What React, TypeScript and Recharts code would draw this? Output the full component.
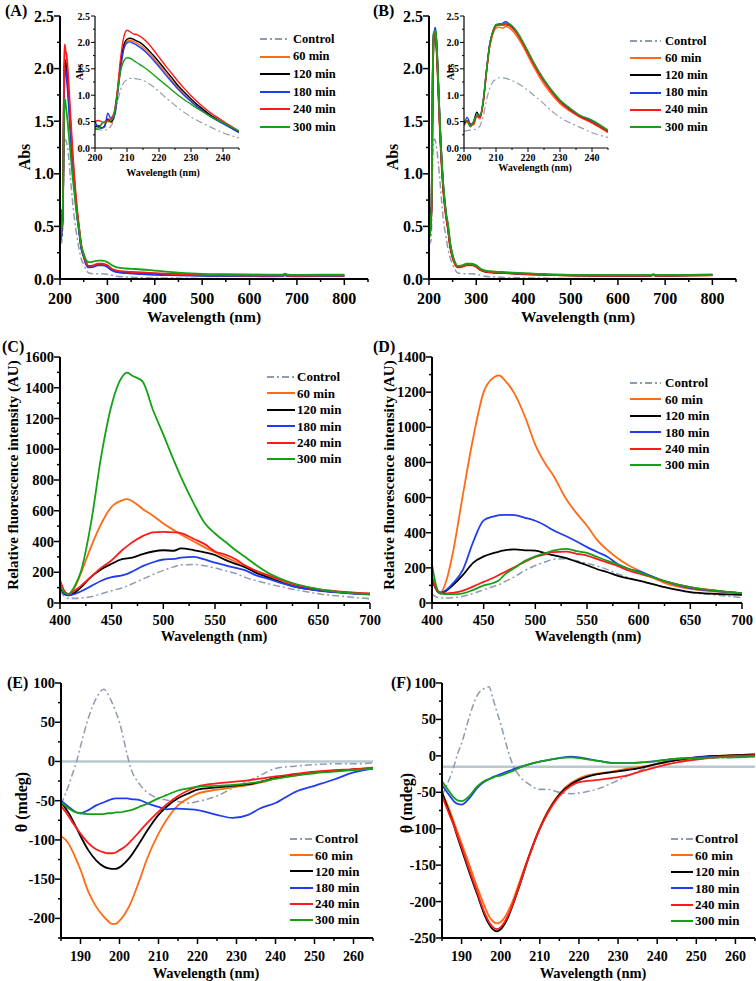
import React from 'react';
import { LineChart, Line, XAxis, YAxis, Legend, ReferenceLine } from 'recharts';

const FONT = '"Liberation Serif", "Times New Roman", Times, serif';

// ---------- series ----------
const seriesKeys = ['control', 'm60', 'm120', 'm180', 'm240', 'm300'];
const seriesNames = ['Control', '60 min', '120 min', '180 min', '240 min', '300 min'];
const seriesColors = ['#8f9cb0', '#ff6a14', '#000000', '#1f3cf0', '#ff1a1a', '#16a016'];
const seriesDash = ['7 3 2 3', '', '', '', '', ''];

// ---------- UV absorbance (A, B) ----------
const absWavelength = [200, 201, 202, 203, 204, 205, 206, 207, 208, 209, 210, 211, 212, 213, 214, 216, 218, 220, 222, 224, 226, 228, 230, 233, 236, 240, 245,
  250, 255, 260, 270, 280, 290, 300, 310, 320, 340, 360, 400, 450, 500, 550, 600, 650, 670, 675, 680, 700, 750, 800];

const absA_control = [0.36, 0.35, 0.34, 0.34, 0.36, 0.42, 0.55, 0.85, 1.10, 1.24, 1.30, 1.32, 1.32, 1.31, 1.30, 1.25, 1.17, 1.07, 0.96, 0.86, 0.76, 0.67, 0.59, 0.49, 0.40, 0.29, 0.19,
  0.14, 0.09, 0.06, 0.05, 0.05, 0.05, 0.045, 0.035, 0.025, 0.02, 0.015, 0.01, 0.008, 0.005, 0.003, 0.002, 0.001, 0.001, 0.002, 0.001, 0.001, 0.001, 0.001];
const absA_60 = [0.35, 0.40, 0.45, 0.50, 0.52, 0.48, 0.60, 1.00, 1.55, 1.90, 2.02, 2.04, 2.02, 1.99, 1.95, 1.85, 1.72, 1.58, 1.43, 1.28, 1.14, 1.01, 0.89, 0.74, 0.61, 0.47, 0.30,
  0.22, 0.15, 0.12, 0.125, 0.14, 0.14, 0.125, 0.09, 0.075, 0.065, 0.06, 0.05, 0.045, 0.035, 0.033, 0.032, 0.031, 0.032, 0.04, 0.031, 0.03, 0.031, 0.032];
const absA_120 = [0.40, 0.42, 0.38, 0.42, 0.55, 0.50, 0.62, 1.05, 1.60, 1.95, 2.06, 2.08, 2.06, 2.03, 2.00, 1.90, 1.77, 1.63, 1.48, 1.33, 1.18, 1.05, 0.93, 0.77, 0.63, 0.48, 0.30,
  0.22, 0.15, 0.115, 0.12, 0.135, 0.135, 0.12, 0.085, 0.07, 0.06, 0.055, 0.048, 0.042, 0.035, 0.033, 0.032, 0.031, 0.032, 0.04, 0.031, 0.03, 0.031, 0.032];
const absA_180 = [0.50, 0.40, 0.38, 0.40, 0.66, 0.55, 0.60, 1.00, 1.50, 1.87, 1.99, 2.01, 1.98, 1.95, 1.91, 1.81, 1.68, 1.54, 1.39, 1.25, 1.11, 0.99, 0.88, 0.73, 0.60, 0.46, 0.29,
  0.21, 0.14, 0.11, 0.115, 0.13, 0.13, 0.115, 0.08, 0.065, 0.055, 0.05, 0.04, 0.035, 0.03, 0.028, 0.027, 0.026, 0.027, 0.035, 0.027, 0.026, 0.027, 0.028];
const absA_240 = [0.50, 0.52, 0.50, 0.48, 0.52, 0.56, 0.68, 1.10, 1.70, 2.10, 2.23, 2.20, 2.16, 2.15, 2.12, 2.02, 1.88, 1.72, 1.56, 1.41, 1.26, 1.12, 0.99, 0.82, 0.67, 0.51, 0.32,
  0.23, 0.16, 0.125, 0.13, 0.145, 0.145, 0.13, 0.095, 0.08, 0.07, 0.065, 0.055, 0.045, 0.036, 0.034, 0.033, 0.032, 0.033, 0.042, 0.032, 0.031, 0.032, 0.033];
const absA_300 = [0.38, 0.35, 0.45, 0.50, 0.50, 0.52, 0.65, 1.05, 1.45, 1.65, 1.71, 1.70, 1.66, 1.62, 1.58, 1.50, 1.40, 1.30, 1.20, 1.10, 1.00, 0.91, 0.83, 0.71, 0.60, 0.48, 0.32,
  0.24, 0.18, 0.16, 0.165, 0.175, 0.175, 0.16, 0.13, 0.11, 0.10, 0.095, 0.08, 0.06, 0.048, 0.045, 0.043, 0.041, 0.042, 0.05, 0.042, 0.04, 0.041, 0.042];

const absB_control = [0.32, 0.33, 0.34, 0.35, 0.36, 0.42, 0.60, 0.90, 1.12, 1.25, 1.30, 1.33, 1.33, 1.32, 1.30, 1.25, 1.18, 1.09, 0.99, 0.89, 0.78, 0.67, 0.58, 0.48, 0.40, 0.29, 0.20,
  0.14, 0.09, 0.06, 0.05, 0.05, 0.05, 0.045, 0.035, 0.025, 0.02, 0.015, 0.01, 0.008, 0.005, 0.003, 0.002, 0.001, 0.001, 0.002, 0.001, 0.001, 0.001, 0.001];
const absB_60 = [0.42, 0.50, 0.46, 0.44, 0.60, 0.55, 0.85, 1.40, 1.90, 2.15, 2.27, 2.29, 2.27, 2.30, 2.28, 2.16, 1.97, 1.74, 1.51, 1.30, 1.12, 0.97, 0.84, 0.70, 0.59, 0.47, 0.29,
  0.20, 0.14, 0.11, 0.115, 0.13, 0.13, 0.115, 0.08, 0.065, 0.058, 0.055, 0.045, 0.038, 0.032, 0.03, 0.03, 0.03, 0.031, 0.038, 0.03, 0.03, 0.032, 0.035];
const absB_120 = [0.45, 0.52, 0.42, 0.50, 0.68, 0.58, 0.88, 1.45, 1.95, 2.20, 2.32, 2.34, 2.34, 2.34, 2.33, 2.22, 2.03, 1.80, 1.57, 1.36, 1.18, 1.02, 0.88, 0.73, 0.61, 0.49, 0.31,
  0.21, 0.15, 0.115, 0.12, 0.135, 0.135, 0.12, 0.085, 0.07, 0.062, 0.058, 0.048, 0.04, 0.034, 0.032, 0.032, 0.032, 0.033, 0.04, 0.032, 0.032, 0.034, 0.037];
const absB_180 = [0.45, 0.58, 0.45, 0.48, 0.62, 0.62, 0.88, 1.45, 1.95, 2.20, 2.33, 2.35, 2.36, 2.39, 2.36, 2.24, 2.05, 1.82, 1.59, 1.38, 1.20, 1.04, 0.90, 0.75, 0.62, 0.51, 0.33,
  0.22, 0.15, 0.12, 0.125, 0.14, 0.14, 0.125, 0.09, 0.075, 0.065, 0.06, 0.05, 0.042, 0.036, 0.034, 0.034, 0.034, 0.035, 0.042, 0.034, 0.034, 0.036, 0.039];
const absB_240 = [0.50, 0.52, 0.43, 0.45, 0.60, 0.58, 0.86, 1.42, 1.92, 2.18, 2.31, 2.33, 2.33, 2.34, 2.32, 2.21, 2.02, 1.79, 1.56, 1.35, 1.17, 1.01, 0.87, 0.72, 0.60, 0.49, 0.31,
  0.21, 0.14, 0.115, 0.12, 0.135, 0.135, 0.12, 0.085, 0.07, 0.062, 0.058, 0.048, 0.04, 0.034, 0.032, 0.032, 0.032, 0.033, 0.04, 0.032, 0.032, 0.034, 0.037];
const absB_300 = [0.52, 0.50, 0.40, 0.50, 0.62, 0.62, 0.90, 1.45, 1.95, 2.20, 2.34, 2.35, 2.35, 2.36, 2.35, 2.25, 2.06, 1.83, 1.60, 1.39, 1.21, 1.05, 0.91, 0.76, 0.63, 0.53, 0.34,
  0.23, 0.16, 0.125, 0.13, 0.145, 0.145, 0.13, 0.095, 0.08, 0.07, 0.065, 0.055, 0.045, 0.04, 0.038, 0.037, 0.037, 0.038, 0.045, 0.038, 0.038, 0.04, 0.043];

// ---------- Fluorescence (C, D) ----------
const flWavelength = [400, 404, 408, 415, 420, 430, 440, 450, 460, 465, 470, 480, 490, 500, 510, 517, 530, 540, 550, 560, 570, 580, 590, 600, 625, 650, 675, 700];

const flC_control = [80, 45, 30, 30, 33, 40, 60, 80, 98, 110, 125, 155, 185, 212, 235, 248, 250, 242, 228, 210, 192, 165, 145, 128, 90, 60, 42, 28];
const flC_60 = [130, 80, 55, 110, 190, 365, 517, 626, 668, 675, 662, 612, 568, 517, 474, 445, 398, 362, 330, 298, 268, 240, 205, 180, 115, 83, 68, 60];
const flC_120 = [110, 60, 50, 70, 100, 170, 220, 255, 285, 290, 295, 318, 335, 343, 340, 355, 343, 330, 312, 280, 255, 230, 195, 170, 110, 83, 68, 58];
const flC_180 = [120, 65, 50, 60, 75, 110, 145, 168, 180, 190, 205, 240, 265, 283, 287, 295, 300, 283, 262, 245, 228, 210, 180, 160, 110, 80, 65, 55];
const flC_240 = [150, 80, 58, 85, 110, 170, 230, 278, 343, 370, 395, 435, 460, 463, 460, 455, 415, 383, 335, 315, 285, 240, 210, 185, 125, 90, 72, 62];
const flC_300 = [120, 70, 60, 120, 200, 520, 960, 1290, 1470, 1498, 1478, 1440, 1255, 1095, 930, 820, 640, 520, 452, 398, 343, 296, 246, 202, 130, 90, 68, 58];

const flD_control = [50, 35, 30, 28, 30, 38, 55, 75, 95, 105, 120, 150, 185, 213, 235, 248, 252, 240, 225, 210, 190, 165, 145, 128, 90, 60, 45, 30];
const flD_60 = [140, 80, 60, 150, 280, 620, 945, 1200, 1285, 1295, 1270, 1190, 1060, 900, 790, 730, 590, 510, 440, 358, 300, 253, 215, 186, 115, 80, 65, 57];
const flD_120 = [140, 80, 55, 75, 100, 160, 230, 265, 285, 293, 300, 305, 300, 298, 283, 272, 255, 235, 215, 192, 175, 155, 140, 128, 90, 62, 52, 47];
const flD_180 = [130, 80, 60, 80, 110, 190, 350, 470, 493, 500, 502, 500, 485, 468, 440, 415, 380, 350, 318, 290, 262, 220, 195, 180, 125, 85, 68, 55];
const flD_240 = [150, 80, 55, 55, 58, 70, 95, 120, 145, 160, 175, 205, 235, 262, 278, 290, 292, 280, 270, 250, 230, 210, 185, 168, 125, 90, 70, 55];
const flD_300 = [220, 100, 55, 50, 50, 55, 75, 100, 115, 130, 160, 200, 240, 265, 285, 298, 308, 295, 285, 262, 240, 220, 195, 175, 125, 90, 70, 55];

// ---------- Circular dichroism (E, F) ----------
const cdWavelength = [185, 187, 188, 189, 190, 192, 194, 196, 197, 198, 199, 200, 201, 202, 203, 205, 207, 210, 212, 215, 218, 220, 225, 229, 233, 236, 240, 245, 250, 255, 260, 265];

const cdE_control = [-55, -30, -15, 0, 19, 55, 80, 92, 86, 76, 64, 50, 30, 8, -10, -28, -39, -47, -49, -51, -53, -51, -44, -34, -25, -18, -9, -6, -4, -3, -3, -2];
const cdE_60 = [-95, -105, -115, -126, -138, -166, -185, -198, -203, -207, -207, -203, -197, -189, -179, -153, -125, -92, -75, -56, -46, -41, -36, -33, -30, -27, -22, -18, -14, -12, -10, -9];
const cdE_120 = [-52, -66, -75, -85, -95, -113, -126, -134, -136, -137, -137, -135, -131, -126, -120, -105, -89, -68, -58, -47, -40, -36, -33, -31, -29, -26, -21, -17, -14, -12, -10, -9];
const cdE_180 = [-50, -58, -62, -65, -66, -62, -56, -52, -50, -48, -47, -47, -47, -47, -48, -49, -53, -58, -61, -60, -61, -62, -68, -72, -68, -60, -53, -39, -31, -23, -14, -9];
const cdE_240 = [-57, -70, -78, -85, -92, -104, -112, -116, -117, -117, -116, -113, -110, -106, -101, -90, -79, -64, -55, -44, -36, -32, -28, -26, -24, -22, -19, -16, -13, -11, -10, -8];
const cdE_300 = [-52, -60, -63, -65, -66, -67, -67, -67, -66, -66, -65, -65, -64, -63, -62, -58, -54, -47, -43, -37, -34, -32, -31, -30, -28, -26, -22, -18, -15, -13, -11, -9];

const cdF_control = [-55, -30, -15, 3, 17, 54, 83, 93, 95, 79, 61, 44, 24, 5, -11, -29, -38, -46, -46, -50, -52, -51, -45, -36, -26, -19, -10, -6, -4, -3, -2, -1];
const cdF_60 = [-50, -75, -90, -105, -120, -150, -180, -208, -220, -227, -230, -228, -222, -212, -200, -170, -140, -98, -76, -52, -37, -31, -24, -21, -17, -15, -11, -6, -2, 0, 1, 2];
const cdF_120 = [-50, -80, -95, -112, -128, -160, -190, -220, -231, -238, -241, -238, -231, -220, -206, -175, -142, -100, -78, -53, -39, -33, -25, -22, -19, -16, -11, -6, -2, 0, 1, 2];
const cdF_180 = [-40, -55, -62, -66, -67, -58, -44, -35, -32, -29, -27, -25, -23, -21, -19, -15, -12, -8, -6, -3, -1, -2, -7, -10, -10, -9, -7, -4, -2, -1, 0, 0];
const cdF_240 = [-55, -82, -95, -110, -125, -157, -187, -217, -228, -235, -238, -235, -228, -218, -205, -174, -142, -100, -79, -55, -41, -36, -33, -30, -26, -21, -15, -9, -5, -2, 0, 1];
const cdF_300 = [-35, -50, -57, -61, -62, -55, -42, -34, -32, -30, -28, -27, -25, -23, -21, -16, -12, -8, -6, -3, -2, -3, -7, -10, -10, -9, -7, -4, -3, -2, -2, -1];

// ---------- ticks ----------
const absMainXMajor = [200, 300, 400, 500, 600, 700, 800];
const absMainXMinor = [250, 350, 450, 550, 650, 750, 850];
const absYMajor = [0, 0.5, 1.0, 1.5, 2.0, 2.5];
const absYMinor = [0.25, 0.75, 1.25, 1.75, 2.25];
const insetXMajor = [200, 210, 220, 230, 240];
const insetXMinor = [205, 215, 225, 235, 245];
const flXMajor = [400, 450, 500, 550, 600, 650, 700];
const flXMinor = [425, 475, 525, 575, 625, 675];
const flCYMajor = [0, 200, 400, 600, 800, 1000, 1200, 1400, 1600];
const flCYMinor = [100, 300, 500, 700, 900, 1100, 1300, 1500];
const flDYMajor = [0, 200, 400, 600, 800, 1000, 1200, 1400];
const flDYMinor = [100, 300, 500, 700, 900, 1100, 1300];
const cdXMajor = [190, 200, 210, 220, 230, 240, 250, 260];
const cdXMinor = [185, 195, 205, 215, 225, 235, 245, 255, 265];
const cdEYMajor = [-200, -150, -100, -50, 0, 50, 100];
const cdEYMinor = [-225, -175, -125, -75, -25, 25, 75];
const cdFYMajor = [-250, -200, -150, -100, -50, 0, 50, 100];
const cdFYMinor = [-225, -175, -125, -75, -25, 25, 75];

// ---------- helpers ----------
function buildRows(xs: number[], cols: number[][]) {
  return xs.map((w, i) => {
    const r: any = { w };
    seriesKeys.forEach((k, j) => { r[k] = cols[j][i]; });
    return r;
  });
}

const rowsA = buildRows(absWavelength, [absA_control, absA_60, absA_120, absA_180, absA_240, absA_300]);
const rowsB = buildRows(absWavelength, [absB_control, absB_60, absB_120, absB_180, absB_240, absB_300]);
const rowsAInset = rowsA.filter((r) => r.w <= 245);
const rowsBInset = rowsB.filter((r) => r.w <= 245);
const rowsC = buildRows(flWavelength, [flC_control, flC_60, flC_120, flC_180, flC_240, flC_300]);
const rowsD = buildRows(flWavelength, [flD_control, flD_60, flD_120, flD_180, flD_240, flD_300]);
const rowsE = buildRows(cdWavelength, [cdE_control, cdE_60, cdE_120, cdE_180, cdE_240, cdE_300]);
const rowsF = buildRows(cdWavelength, [cdF_control, cdF_60, cdF_120, cdF_180, cdF_240, cdF_300]);

type AxisCfg = {
  domain: [number, number];
  majors: number[];
  minors: number[];
  fmt: (v: number) => string;
  fs: number;
  majorLen: number;
  minorLen: number;
  gap: number;
};

const f1 = (v: number) => v.toFixed(1);
const f0 = (v: number) => String(v);

function renderXTick(p: any, a: AxisCfg, sw: number) {
  const { x, y, payload } = p;
  const v = payload.value;
  const major = a.majors.includes(v);
  const ay = y - 8;
  return (
    <g>
      <line x1={x} y1={ay} x2={x} y2={ay + (major ? a.majorLen : a.minorLen)} stroke="#000" strokeWidth={sw} />
      {major && (
        <text x={x} y={ay + a.gap} textAnchor="middle" dominantBaseline="central" fontFamily={FONT} fontWeight="bold" fontSize={a.fs} fill="#000">
          {a.fmt(v)}
        </text>
      )}
    </g>
  );
}

function renderYTick(p: any, a: AxisCfg, sw: number) {
  const { x, y, payload } = p;
  const v = payload.value;
  const major = a.majors.includes(v);
  const ax = x + 8;
  return (
    <g>
      <line x1={ax} y1={y} x2={ax - (major ? a.majorLen : a.minorLen)} y2={y} stroke="#000" strokeWidth={sw} />
      {major && (
        <text x={ax - a.gap} y={y} textAnchor="end" dominantBaseline="central" fontFamily={FONT} fontWeight="bold" fontSize={a.fs} fill="#000">
          {a.fmt(v)}
        </text>
      )}
    </g>
  );
}

type LegendCfg = { x: number; y: number; step: number; lineLen: number; gap: number; fs: number };

function makeLegend(cfg: LegendCfg) {
  return () => (
    <div style={{ fontFamily: FONT, fontWeight: 'bold', fontSize: cfg.fs, color: '#000' }}>
      {seriesKeys.map((k, i) => (
        <div key={k} style={{ display: 'flex', alignItems: 'center', height: cfg.step }}>
          <svg width={cfg.lineLen} height={6} style={{ flex: 'none', display: 'block' }}>
            <line x1={0} y1={3} x2={cfg.lineLen} y2={3} stroke={seriesColors[i]} strokeWidth={2}
              strokeDasharray={seriesDash[i] || undefined} />
          </svg>
          <span style={{ marginLeft: cfg.gap, whiteSpace: 'nowrap', lineHeight: 1 }}>{seriesNames[i]}</span>
        </div>
      ))}
    </div>
  );
}

type Box = { L: number; T: number; W: number; H: number };
type Plot = { x0: number; x1: number; y0: number; y1: number };

function Panel(props: {
  box: Box; plot: Plot; data: any[]; xa: AxisCfg; ya: AxisCfg; legend?: LegendCfg; refY?: number;
  lw: number; aw: number; tw: number;
}) {
  const { box, plot, data, xa, ya, legend, refY, lw, aw, tw } = props;
  const margin = {
    left: plot.x0 - box.L - 30,
    right: box.L + box.W - plot.x1,
    top: plot.y0 - box.T,
    bottom: box.T + box.H - plot.y1 - 20,
  };
  const xt = [...xa.majors, ...xa.minors].sort((a, b) => a - b);
  const yt = [...ya.majors, ...ya.minors].sort((a, b) => a - b);
  return (
    <div style={{ position: 'absolute', left: box.L, top: box.T, width: box.W, height: box.H }}>
      <LineChart width={box.W} height={box.H} data={data} margin={margin}>
        <XAxis dataKey="w" type="number" domain={xa.domain} ticks={xt} interval={0} allowDataOverflow
          height={20} tickSize={6} tickMargin={2} tickLine={false}
          axisLine={{ stroke: '#000', strokeWidth: aw }} tick={(p: any) => renderXTick(p, xa, tw)} />
        <YAxis type="number" domain={ya.domain} ticks={yt} interval={0} allowDataOverflow
          width={30} tickSize={6} tickMargin={2} tickLine={false}
          axisLine={{ stroke: '#000', strokeWidth: aw }} tick={(p: any) => renderYTick(p, ya, tw)} />
        {refY !== undefined && <ReferenceLine y={refY} stroke="#b8c8ce" strokeWidth={2.5} />}
        {seriesKeys.map((k, i) => (
          <Line key={k} dataKey={k} name={seriesNames[i]} type="monotone" dot={false} isAnimationActive={false}
            stroke={seriesColors[i]} strokeWidth={i === 0 ? lw * 0.85 : lw}
            strokeDasharray={seriesDash[i] || undefined} />
        ))}
        {legend && (
          <Legend layout="vertical" align="center" verticalAlign="middle"
            wrapperStyle={{ left: legend.x - box.L, top: legend.y - legend.step / 2 - box.T, width: 'auto' }}
            content={makeLegend(legend)} />
        )}
      </LineChart>
    </div>
  );
}

function Title(props: { x: number; y: number; text: string; fs: number; rot?: boolean }) {
  const { x, y, text, fs, rot } = props;
  return (
    <div style={{
      position: 'absolute', left: x, top: y, transform: `translate(-50%, -50%)${rot ? ' rotate(-90deg)' : ''}`,
      fontFamily: FONT, fontWeight: 'bold', fontSize: fs, whiteSpace: 'nowrap', lineHeight: 1, color: '#000',
    }}>{text}</div>
  );
}

function Letter(props: { x: number; y: number; text: string }) {
  return (
    <div style={{
      position: 'absolute', left: props.x, top: props.y, transform: 'translateY(-50%)',
      fontFamily: FONT, fontWeight: 'bold', fontSize: 16, lineHeight: 1, whiteSpace: 'nowrap',
    }}>{props.text}</div>
  );
}

// axis configs
const axAbsX: AxisCfg = { domain: [200, 850], majors: absMainXMajor, minors: absMainXMinor, fmt: f0, fs: 16, majorLen: 6, minorLen: 3, gap: 19.5 };
const axAbsY: AxisCfg = { domain: [0, 2.5], majors: absYMajor, minors: absYMinor, fmt: f1, fs: 16, majorLen: 6, minorLen: 3, gap: 6 };
const axInX: AxisCfg = { domain: [200, 245], majors: insetXMajor, minors: insetXMinor, fmt: f0, fs: 10, majorLen: 4, minorLen: 2, gap: 9 };
const axInY: AxisCfg = { domain: [0, 2.5], majors: absYMajor, minors: absYMinor, fmt: f1, fs: 10, majorLen: 4, minorLen: 2, gap: 5 };
const axFlX: AxisCfg = { domain: [400, 700], majors: flXMajor, minors: flXMinor, fmt: f0, fs: 14.5, majorLen: 6, minorLen: 3, gap: 17 };
const axFlCY: AxisCfg = { domain: [0, 1600], majors: flCYMajor, minors: flCYMinor, fmt: f0, fs: 14.5, majorLen: 6, minorLen: 3, gap: 6 };
const axFlDY: AxisCfg = { domain: [0, 1400], majors: flDYMajor, minors: flDYMinor, fmt: f0, fs: 14.5, majorLen: 6, minorLen: 3, gap: 6 };
const axCdX: AxisCfg = { domain: [185, 265], majors: cdXMajor, minors: cdXMinor, fmt: f0, fs: 14, majorLen: 6, minorLen: 3, gap: 18 };
const axCdEY: AxisCfg = { domain: [-225, 100], majors: cdEYMajor, minors: cdEYMinor, fmt: f0, fs: 14.5, majorLen: 6, minorLen: 3, gap: 6 };
const axCdFY: AxisCfg = { domain: [-250, 100], majors: cdFYMajor, minors: cdFYMinor, fmt: f0, fs: 14.5, majorLen: 6, minorLen: 3, gap: 6 };

export default function App() {
  return (
    <div style={{ position: 'absolute', left: 0, top: 0, width: 756, height: 981, background: '#fff', overflow: 'hidden' }}>
      {/* A */}
      <Panel box={{ L: 0, T: 0, W: 378, H: 330 }} plot={{ x0: 60, x1: 368, y0: 16, y1: 279 }} data={rowsA}
        xa={axAbsX} ya={axAbsY} lw={1.8} aw={2} tw={1.5}
        legend={{ x: 260, y: 39, step: 17.6, lineLen: 30, gap: 3, fs: 12.5 }} />
      <Panel box={{ L: 60, T: 0, W: 200, H: 180 }} plot={{ x0: 95, x1: 239, y0: 16, y1: 148 }} data={rowsAInset}
        xa={axInX} ya={axInY} lw={1.4} aw={1.2} tw={1} />
      {/* B */}
      <Panel box={{ L: 378, T: 0, W: 378, H: 330 }} plot={{ x0: 429, x1: 736, y0: 16, y1: 279 }} data={rowsB}
        xa={axAbsX} ya={axAbsY} lw={1.8} aw={2} tw={1.5}
        legend={{ x: 630, y: 41, step: 17.2, lineLen: 31, gap: 4, fs: 12.5 }} />
      <Panel box={{ L: 430, T: 0, W: 200, H: 180 }} plot={{ x0: 464, x1: 608, y0: 16, y1: 148 }} data={rowsBInset}
        xa={axInX} ya={axInY} lw={1.4} aw={1.2} tw={1} />
      {/* C */}
      <Panel box={{ L: 0, T: 320, W: 392, H: 330 }} plot={{ x0: 60, x1: 370, y0: 357, y1: 603 }} data={rowsC}
        xa={axFlX} ya={axFlCY} lw={1.8} aw={2} tw={1.5}
        legend={{ x: 267, y: 377, step: 16.4, lineLen: 28, gap: 2, fs: 13 }} />
      {/* D */}
      <Panel box={{ L: 378, T: 320, W: 378, H: 330 }} plot={{ x0: 432, x1: 742, y0: 357, y1: 603 }} data={rowsD}
        xa={axFlX} ya={axFlDY} lw={1.8} aw={2} tw={1.5}
        legend={{ x: 630, y: 383, step: 16.4, lineLen: 31, gap: 4, fs: 13 }} />
      {/* E */}
      <Panel box={{ L: 0, T: 650, W: 378, H: 331 }} plot={{ x0: 61, x1: 373, y0: 683, y1: 938 }} data={rowsE}
        xa={axCdX} ya={axCdEY} lw={1.8} aw={2} tw={1.5} refY={0}
        legend={{ x: 290, y: 839, step: 16.2, lineLen: 23, gap: 2, fs: 13 }} />
      {/* F */}
      <Panel box={{ L: 378, T: 650, W: 378, H: 331 }} plot={{ x0: 442, x1: 755, y0: 683, y1: 938 }} data={rowsF}
        xa={axCdX} ya={axCdFY} lw={1.8} aw={2} tw={1.5} refY={-15}
        legend={{ x: 671, y: 839, step: 16.4, lineLen: 22, gap: 2, fs: 13 }} />

      {/* titles */}
      <Title x={25} y={157} text="Abs" fs={16} rot />
      <Title x={204} y={317} text="Wavelength (nm)" fs={15.5} />
      <Title x={80} y={72} text="Abs" fs={10} rot />
      <Title x={163} y={173} text="Wavelength (nm)" fs={10} />
      <Title x={393} y={157} text="Abs" fs={16} rot />
      <Title x={578} y={317} text="Wavelength (nm)" fs={15.5} />
      <Title x={451} y={72} text="Abs" fs={10} rot />
      <Title x={535} y={168} text="Wavelength (nm)" fs={10} />
      <Title x={13} y={475} text="Relative fluorescence intensity (AU)" fs={15} rot />
      <Title x={214} y={636} text="Wavelength (nm)" fs={14.5} />
      <Title x={389} y={475} text="Relative fluorescence intensity (AU)" fs={15} rot />
      <Title x={588} y={636} text="Wavelength (nm)" fs={14.5} />
      <Title x={22} y={802} text="θ (mdeg)" fs={16} rot />
      <Title x={206} y={973} text="Wavelength (nm)" fs={14.5} />
      <Title x={407} y={803} text="θ (mdeg)" fs={16} rot />
      <Title x={593} y={973} text="Wavelength (nm)" fs={14.5} />

      <Letter x={5} y={11} text="(A)" />
      <Letter x={373} y={11} text="(B)" />
      <Letter x={2} y={347} text="(C)" />
      <Letter x={373} y={347} text="(D)" />
      <Letter x={7} y={683} text="(E)" />
      <Letter x={391} y={683} text="(F)" />
    </div>
  );
}
